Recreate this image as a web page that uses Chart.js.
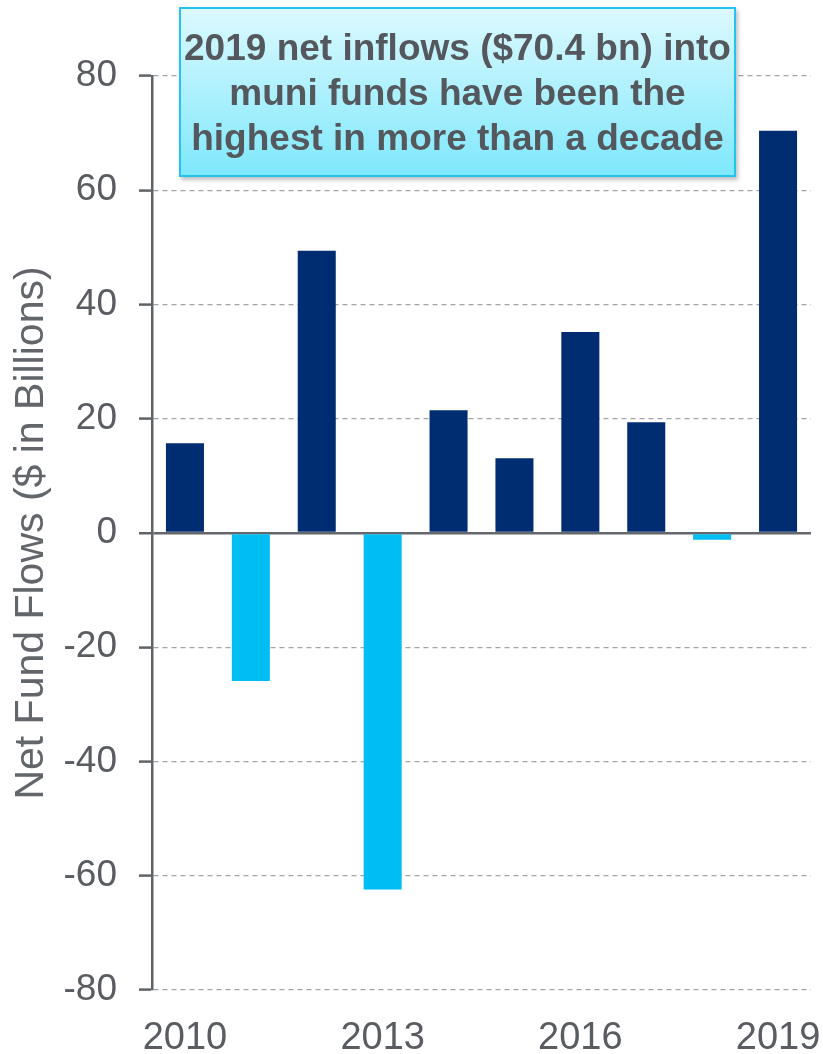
<!DOCTYPE html>
<html lang="en">
<head>
  <meta charset="UTF-8">
  <title>Net Fund Flows – Muni Funds</title>
  <script src="https://cdn.jsdelivr.net/npm/chart.js"></script>
  <style>
    body { margin: 0; background: #fff; font-family: 'Liberation Sans', Arial, sans-serif; }
    .wrap { position: relative; width: 823px; height: 1054px; }
    .callout {
      position: absolute; left: 179px; top: 7px; width: 557px; height: 170px;
      box-sizing: border-box; border: 2px solid #22c3ee;
      background: linear-gradient(to bottom, #dcf9fe, #7fe8fc);
      box-shadow: 2px 3px 4px rgba(0,0,0,0.25);
      color: #54585d; font-weight: bold; font-size: 37px; line-height: 45px;
      text-align: center; display: flex; align-items: center; justify-content: center;
    }
  </style>
</head>
<body>

<div class="wrap">
  <canvas id="flows"></canvas>
  <div class="callout">2019 net inflows ($70.4 bn) into<br>muni funds have been the<br>highest in more than a decade</div>
</div>

<script>
  const years = ['2010','2011','2012','2013','2014','2015','2016','2017','2018','2019'];
  const netFlows = [15.7, -25.9, 49.4, -62.4, 21.5, 13.1, 35.2, 19.4, -1.2, 70.4];
  const yTicks = [-80, -60, -40, -20, 0, 20, 40, 60, 80];

  const NAVY = '#002d72', CYAN = '#00bef2';
  const TEXT = '#595c61';
  const FONT = "'Liberation Sans', Arial, sans-serif";

  new Chart(document.getElementById('flows'), {
    type: 'bar',
    data: {
      labels: years,
      datasets: [{
        data: netFlows,
        backgroundColor: netFlows.map(v => v < 0 ? CYAN : NAVY),
        barPercentage: 1,
        categoryPercentage: 0.577
      }]
    },
    options: {
      responsive: true,
      maintainAspectRatio: false,
      animation: false,
      layout: { padding: { top: 76, right: 12, bottom: 0, left: 0 } },
      plugins: { legend: { display: false }, tooltip: { enabled: false } },
      scales: {
        x: {
          grid: { display: false, drawTicks: false },
          border: { display: false },
          // the year labels may spill past the plot edge, keep the plot wide
          afterFit: s => { s.height = 64; s.paddingLeft = 0; s.paddingRight = 0; },
          ticks: {
            autoSkip: false,
            maxRotation: 0,
            padding: 26,
            color: TEXT,
            font: { family: FONT, size: 38 },
            callback: (v, i) => i % 3 === 0 ? years[i] : ''
          }
        },
        y: {
          min: yTicks[0],
          max: yTicks[yTicks.length - 1],
          afterFit: s => { s.width = 152; },
          afterBuildTicks: s => { s.ticks = yTicks.map(v => ({ value: v })); },
          title: {
            display: true,
            text: 'Net Fund Flows ($ in Billions)',
            color: '#62666b',
            font: { family: FONT, size: 41 },
            padding: { top: 7, bottom: 0 }
          },
          ticks: {
            padding: 22,
            color: TEXT,
            font: { family: FONT, size: 37 }
          },
          grid: {
            color: c => c.tick && c.tick.value === 0 ? '#64676c' : '#a4a4a4',
            lineWidth: c => c.tick && c.tick.value === 0 ? 2.5 : 1.2,
            tickColor: '#5f6368',
            tickWidth: 2.5,
            tickLength: 13
          },
          border: {
            color: '#5f6368',
            width: 2.5,
            dash: c => c.tick && c.tick.value === 0 ? [] : [5, 4]
          }
        }
      }
    }
  });
</script>

</body>
</html>
